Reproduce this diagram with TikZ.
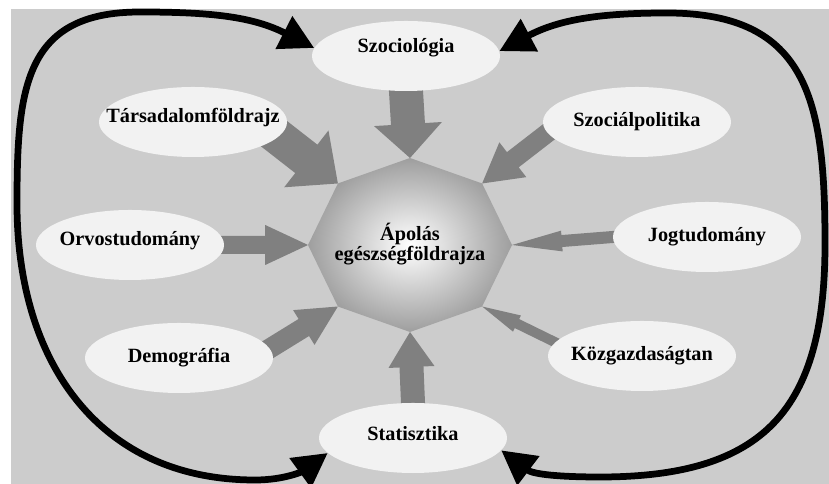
\documentclass[tikz,border=0pt]{standalone}
\usepackage{fontspec}
\setmainfont{Liberation Serif}
\usetikzlibrary{shapes.geometric, arrows.meta, calc, backgrounds}

\definecolor{bggray}{RGB}{204,204,204}
\definecolor{ellfill}{RGB}{242,242,242}
\definecolor{blockgray}{RGB}{128,128,128}
\definecolor{octgray}{RGB}{158,158,158}

\tikzset{
  topic/.style = {ellipse, fill = ellfill, minimum width = 4.7cm, minimum height = 1.75cm, inner sep = 0pt},
  topictext/.style = {font = \bfseries\fontsize{14.4}{12.8}\selectfont, inner sep = 0pt},
  bigcurve/.style = {line width = 4.8pt, arrows = {Triangle[length = 0.85cm, width = 0.88cm]-Triangle[length = 0.85cm, width = 0.88cm]}}
}

% start, tip, half shaft, half head, head length
\newcommand{\blockarrow}[5]{
  \coordinate (ba) at ($(#1)!-0.3cm!(#2)$);
  \coordinate (bh) at ($(#2)!#5!(ba)$);
  \fill[blockgray] ($(ba)!#3!90:(#2)$) -- ($(bh)!#3!90:(#2)$) -- ($(bh)!#4!90:(#2)$) -- (#2)
    -- ($(bh)!#4!-90:(#2)$) -- ($(bh)!#3!-90:(#2)$) -- ($(ba)!#3!-90:(#2)$) -- cycle;
}

\begin{document}
\begin{tikzpicture} [x = 0.025cm, y = 0.025cm]
\useasboundingbox (0, 0) rectangle (829, 484);

\coordinate (mid) at (410, 239);
\foreach \a in {0, 45, ..., 315} \coordinate (oct\a) at ($(mid) + (\a:102 and 87)$);
\shade[inner color = white, outer color = octgray] (oct0) -- (oct45) -- (oct90) -- (oct135) -- (oct180) -- (oct225) -- (oct270) -- (oct315) -- cycle;
\node[topictext, align = center] (apolas) at (410, 240){Ápolás\\egészségföldrajza};

\node[topic, label = {[topictext, yshift = 0.2cm]center:Szociológia}] (szoc) at (406, 428){};
\node[topic, label = {[topictext, yshift = 0.1cm]center:Társadalomföldrajz}] (tars) at (193, 362){};
\node[topic, label = {[topictext]center:Szociálpolitika}] (szpol) at (637, 362){};
\node[topic, label = {[topictext, yshift = 0.1cm]center:Orvostudomány}] (orvos) at (130, 239){};
\node[topic, label = {[topictext]center:Jogtudomány}] (jog) at (707, 247){};
\node[topic, label = {[topictext]center:Demográfia}] (demo) at (179, 126){};
\node[topic, label = {[topictext]center:Közgazdaságtan}] (kozg) at (642, 128){};
\node[topic, label = {[topictext, yshift = 0.1cm]center:Statisztika}] (stat) at (413, 46){};

\begin{pgfonlayer}{background}
\fill[white] (0, 0) rectangle (829, 484);
\fill[bggray] (11, 0) rectangle (829, 475);
\blockarrow{szoc.south}{oct90}{0.425cm}{0.85cm}{0.85cm}
\blockarrow{tars.-10}{oct135}{0.45cm}{0.9cm}{1.0cm}
\blockarrow{szpol.187}{oct45}{0.24cm}{0.55cm}{0.97cm}
\blockarrow{orvos.east}{oct180}{0.225cm}{0.5cm}{1.07cm}
\blockarrow{jog.west}{oct0}{0.15cm}{0.26cm}{1.25cm}
\blockarrow{demo.6}{oct225}{0.25cm}{0.51cm}{1.0cm}
\blockarrow{stat.north}{oct270}{0.3cm}{0.575cm}{0.875cm}
\blockarrow{kozg.171}{oct315}{0.125cm}{0.225cm}{0.97cm}
\end{pgfonlayer}

\draw[bigcurve] (stat.190) to[out = 216, in = 0] (255, 4) to[out = 180, in = -90, looseness = 1.1] (17, 280) to[out = 90, in = 180, looseness = 1.3] (140, 472) to[out = 0, in = 153] (szoc.175);
\draw[bigcurve] (stat.-8) to[out = -37, in = 180] (600, 7) to[out = 0, in = -90, looseness = 1.3] (825, 240) to[out = 90, in = 0, looseness = 1.3] (667, 471) to[out = 180, in = 28] (szoc.3);
\end{tikzpicture}
\end{document}
